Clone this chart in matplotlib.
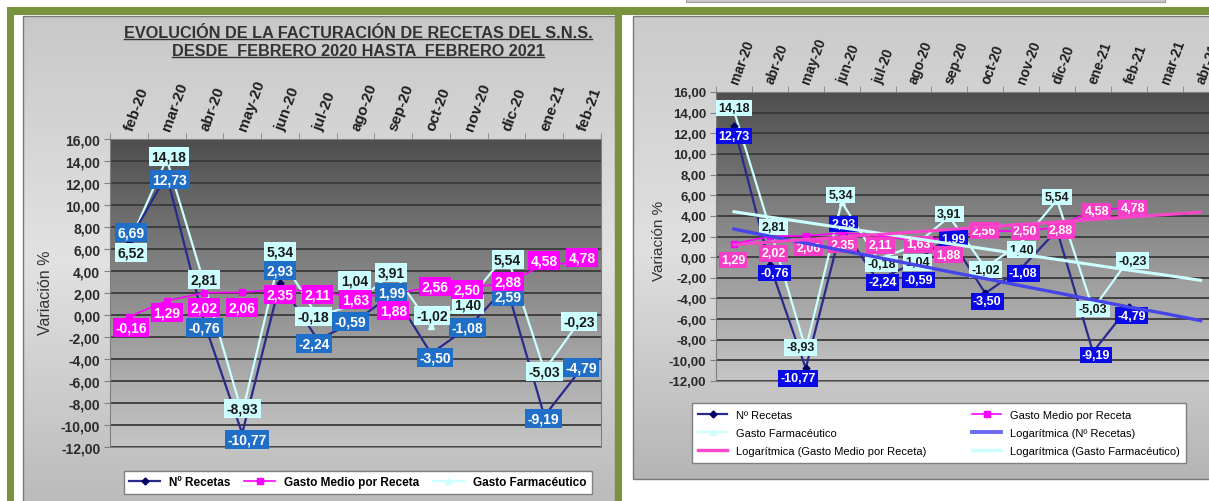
import numpy as np
import pandas as pd
import matplotlib
matplotlib.use("Agg")
import matplotlib.pyplot as plt
from matplotlib.colors import LinearSegmentedColormap
from matplotlib.lines import Line2D
from matplotlib.patches import Rectangle

plt.rcParams['font.family'] = ['Liberation Sans', 'DejaVu Sans']

# datos (variacion % interanual)
meses_izq = ["feb-20", "mar-20", "abr-20", "may-20", "jun-20", "jul-20", "ago-20",
             "sep-20", "oct-20", "nov-20", "dic-20", "ene-21", "feb-21"]
meses_der = ["mar-20", "abr-20", "may-20", "jun-20", "jul-20", "ago-20", "sep-20",
             "oct-20", "nov-20", "dic-20", "ene-21", "feb-21", "mar-21", "abr-21"]
recetas = [6.69, 12.73, -0.76, -10.77, 2.93, -2.24, -0.59, 1.99, -3.50, -1.08, 2.59, -9.19, -4.79]
gasto_medio = [-0.16, 1.29, 2.02, 2.06, 2.35, 2.11, 1.63, 1.88, 2.56, 2.50, 2.88, 4.58, 4.78]
gasto_farma = [6.52, 14.18, 2.81, -8.93, 5.34, -0.18, 1.04, 3.91, -1.02, 1.40, 5.54, -5.03, -0.23]

nombres = ["Nº Recetas", "Gasto Medio por Receta", "Gasto Farmacéutico"]
titulo = ["EVOLUCIÓN DE LA FACTURACIÓN DE RECETAS DEL S.N.S.",
          "DESDE  FEBRERO 2020 HASTA  FEBRERO 2021"]

# posicion manual de las etiquetas (pixeles respecto al punto); None = tapada en el original
off_rec_izq = [(2, 9), (3, -5), (0, -4), (5, -6), (0, 12), (-4, -4), (-5, 0), (-2, 1), (4, -4), (-1, -1), (1, -10), (-1, -2), (-1, 0)]
off_gm_izq = [(2, -11), (0, -12), (0, -15), (0, -15), (0, -5), (0, -3), (0, -2), (0, -16), (4, 0), (-2, -2), (1, 2), (0, 4), (0, 5)]
off_gf_izq = [(2, -9), (2, 3), (0, 5), (0, 5), (0, 5), (-4, 0), (-1, 23), (-2, -1), (1, 11), (-1, -5), (1, -5), (0, -1), (-3, -4)]
off_rec_der = [(0, -10), (5, -8), (-8, -10), (2, 3), (5, -2), (5, -17), (4, -2), (2, -8), (2, -5), None, (3, -3), (3, -9)]
off_gm_der = [(-1, -16), (4, -17), (3, -12), (1, -12), (3, -10), (5, -4), (-1, -17), (-1, 0), (4, 0), (4, -3), (4, -1), (4, 0)]
off_gf_der = [(0, 3), (4, 1), (-5, 2), (-1, 7), (4, -5), (4, -16), (0, 3), (0, -2), (0, -7), (0, 3), (0, 0), (4, -1)]

W, H = 1209, 502
VERDE = '#77933C'
NAVY = '#2A2A8A'
MAG = '#FF00FF'
CIAN = '#CCFFFF'


def caja(x0, y0, x1, y1):
    return [x0 / W, 1 - y1 / H, (x1 - x0) / W, (y1 - y0) / H]


def fmt(v):
    return f"{v:.2f}".replace(".", ",")


grad = np.linspace(0, 1, 256).reshape(-1, 1)
cmap_fondo = LinearSegmentedColormap.from_list('fondo', ['#C8C8C8', '#E2E2E2', '#BBBBBB'])
cmap_fondo2 = LinearSegmentedColormap.from_list('fondo2', ['#CBCBCB', '#E0E0E0', '#B5B5B5'])
cmap_plot = LinearSegmentedColormap.from_list('plot', ['#4E4E4E', '#8C8C8C', '#C6C6C6'])

fig = plt.figure(figsize=(W / 100, H / 100), dpi=100)

# marcos y fondos
bg = fig.add_axes([0, 0, 1, 1])
bg.axis('off')
bg.imshow(grad, cmap=cmap_fondo, extent=(23, 615, 502, 17), aspect='auto')
bg.imshow(grad, cmap=cmap_fondo2, extent=(633, 1215, 480, 17), aspect='auto')
bg.add_patch(Rectangle((23, 17), 592, 490, fill=False, ec='#7A7A7A', lw=1))
bg.add_patch(Rectangle((633, 17), 590, 463, fill=False, ec='#7A7A7A', lw=1))
bg.add_patch(Rectangle((686, -2), 479, 5, fc='#C8C8C8', ec='#A0A0A0', lw=0.8))
bg.add_patch(Rectangle((7, 8), 1210, 8, fc=VERDE, ec='none'))
bg.add_patch(Rectangle((7, 8), 7, 500, fc=VERDE, ec='none'))
bg.add_patch(Rectangle((615, 8), 7, 500, fc=VERDE, ec='none'))
bg.set_xlim(0, W)
bg.set_ylim(H, 0)


def panel(rect, meses, tam, tam_mes):
    ax = fig.add_axes(caja(*rect))
    n = len(meses)
    ax.imshow(grad, cmap=cmap_plot, extent=(-0.5, n - 0.5, -12, 16), aspect='auto', zorder=0)
    ax.set_xlim(-0.5, n - 0.5)
    ax.set_ylim(-12, 16)
    yt = np.arange(-12, 17, 2)
    ax.set_yticks(yt)
    ax.set_yticklabels([fmt(v) for v in yt], fontsize=tam, fontweight='bold', color='#2A2A2A')
    ax.grid(axis='y', color='#3A3A3A', lw=1.3)
    ax.xaxis.tick_top()
    ax.set_xticks(range(n))
    ax.set_xticklabels(meses, rotation=70, ha='left', va='center', rotation_mode='anchor',
                       fontsize=tam_mes, fontweight='bold', color='#1E1E1E')
    ax.set_xticks(np.arange(-0.5, n), minor=True)
    ax.tick_params(axis='x', which='major', length=0, pad=7)
    ax.tick_params(axis='x', which='minor', length=4, color='#808080', top=True, bottom=False)
    ax.tick_params(axis='y', length=4, color='#808080', pad=3)
    for s in ax.spines.values():
        s.set_color('#7F7F7F')
    return ax


def etiquetas(ax, valores, desplaz, fondo, texto, tam):
    for i, (v, off) in enumerate(zip(valores, desplaz)):
        if off is None:
            continue
        ax.annotate(fmt(v), (i, v), xytext=off, textcoords='offset pixels',
                    ha='center', va='center', fontsize=tam, fontweight='bold', color=texto,
                    bbox=dict(boxstyle='square,pad=0.18', fc=fondo, ec='none'),
                    zorder=6, annotation_clip=False)


def series(ax, rec, gm, gf):
    x = np.arange(len(rec))
    ax.plot(x, gf, color=CIAN, lw=1.6, marker='^', ms=4, zorder=3)
    ax.plot(x, rec, color=NAVY, lw=1.6, marker='D', ms=3.5, mfc='#000066', mec='#000066', zorder=3)
    ax.plot(x, gm, color=MAG, lw=1.2, marker='s', ms=5, zorder=3)


# ---- grafico izquierdo ----
ax1 = panel((110, 140, 601, 448), meses_izq, 10, 11)
series(ax1, recetas, gasto_medio, gasto_farma)
etiquetas(ax1, recetas, off_rec_izq, '#1F6FC8', 'white', 10)
etiquetas(ax1, gasto_farma, off_gf_izq, CIAN, '#1A1A1A', 10)
etiquetas(ax1, gasto_medio, off_gm_izq, MAG, 'white', 10)

fig.text(45 / W, 1 - 293 / H, "Variación %", rotation=90, ha='center', va='center',
         fontsize=11.5, color='#333333')
tits = []
for k, linea in enumerate(titulo):
    tits.append(fig.text(358 / W, 1 - (34 + 18 * k) / H, linea, ha='center', va='center',
                         fontsize=11.7, fontweight='bold', color='#333333'))

h_izq = [Line2D([], [], color=NAVY, lw=1.6, marker='D', ms=3.5, mfc='#000066', mec='#000066'),
         Line2D([], [], color=MAG, lw=1.2, marker='s', ms=5),
         Line2D([], [], color=CIAN, lw=1.6, marker='^', ms=4)]
fig.legend(h_izq, nombres, loc='center', bbox_to_anchor=(118 / W, 1 - 497 / H, 480 / W, 27 / H),
           mode='expand', ncol=3, fancybox=False, edgecolor='#808080', facecolor='white',
           framealpha=1, prop=dict(weight='bold', size=8.5), handlelength=2.6, borderpad=0.45)

# ---- grafico derecho (con lineas de tendencia logaritmicas) ----
rec_d, gm_d, gf_d = recetas[1:], gasto_medio[1:], gasto_farma[1:]
fechas = pd.date_range("2020-03-01", periods=len(meses_der), freq="MS")
serial = (fechas - pd.Timestamp("1899-12-30")).days.to_numpy().astype(float)
lx = np.log(serial)


def tendencia(y):
    a, b = np.polyfit(lx[:len(y)], y, 1)
    return a * lx + b


ax2 = panel((716, 93, 716 + 14 * 35.9, 382), meses_der, 9.5, 10)
series(ax2, rec_d, gm_d, gf_d)
etiquetas(ax2, rec_d, off_rec_der, '#0A0AE6', 'white', 9)
etiquetas(ax2, gf_d, off_gf_der, CIAN, '#1A1A1A', 9)
etiquetas(ax2, gm_d, off_gm_der, '#F53DC8', 'white', 9)
xt = np.arange(len(meses_der))
ax2.plot(xt, tendencia(rec_d), color='#4545E8', lw=2.4, zorder=7)
ax2.plot(xt, tendencia(gf_d), color=CIAN, lw=2.2, zorder=7)
ax2.plot(xt, tendencia(gm_d), color='#FF44CC', lw=2.2, zorder=7)

fig.text(659 / W, 1 - 241 / H, "Variación %", rotation=90, ha='center', va='center',
         fontsize=11, color='#333333')

h_der = [Line2D([], [], color=NAVY, lw=1.6, marker='D', ms=3.5, mfc='#000066', mec='#000066'),
         Line2D([], [], color=CIAN, lw=1.6, marker='^', ms=4),
         Line2D([], [], color='#FF44CC', lw=2.4),
         Line2D([], [], color=MAG, lw=1.2, marker='s', ms=5),
         Line2D([], [], color='#6A6AF0', lw=2.8),
         Line2D([], [], color=CIAN, lw=2.4)]
l_der = ["Nº Recetas", "Gasto Farmacéutico", "Logarítmica (Gasto Medio por Receta)",
         "Gasto Medio por Receta", "Logarítmica (Nº Recetas)", "Logarítmica (Gasto Farmacéutico)"]
fig.legend(h_der, l_der, loc='center', bbox_to_anchor=(686 / W, 1 - 468 / H, 506 / W, 68 / H),
           mode='expand', ncol=2, fancybox=False, edgecolor='#808080', facecolor='white',
           framealpha=1, prop=dict(size=8), handlelength=2.6, labelspacing=0.75, borderpad=0.6)

# subrayado del titulo
fig.canvas.draw()
rend = fig.canvas.get_renderer()
for t in tits:
    bb = t.get_window_extent(rend)
    fig.add_artist(Line2D([bb.x0 / W, bb.x1 / W], [(bb.y0 + 1.5) / H] * 2,
                          transform=fig.transFigure, color='#333333', lw=1))

fig.savefig("out.png", dpi=100)
